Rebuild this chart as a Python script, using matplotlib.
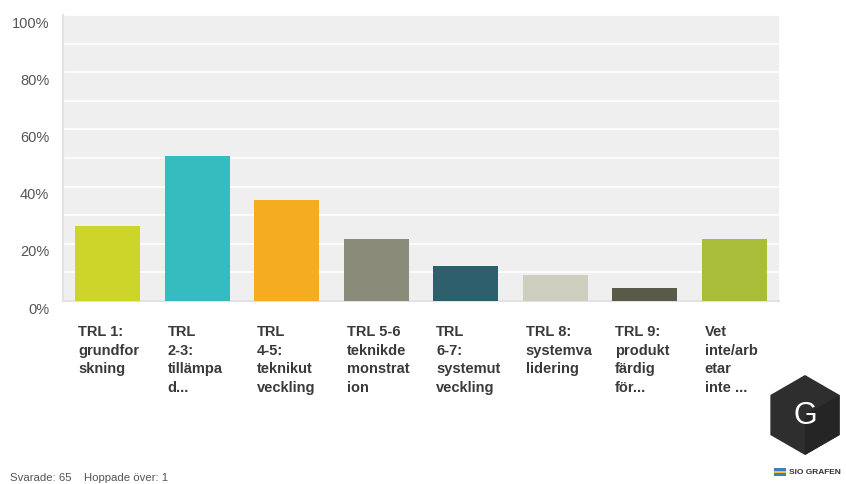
import matplotlib.pyplot as plt
import matplotlib.transforms as mtransforms
import numpy as np
from matplotlib.patches import RegularPolygon, Rectangle, Polygon
from matplotlib.ticker import FuncFormatter

# andel svarande per TRL-nivå (%), 65 svarande
categories = [
    "TRL 1:\ngrundfor\nskning",
    "TRL\n2-3:\ntillämpa\nd...",
    "TRL\n4-5:\nteknikut\nveckling",
    "TRL 5-6\nteknikde\nmonstrat\nion",
    "TRL\n6-7:\nsystemut\nveckling",
    "TRL 8:\nsystemva\nlidering",
    "TRL 9:\nprodukt\nfärdig\nför...",
    "Vet\ninte/arb\netar\ninte ...",
]
percent = [26.15, 50.77, 35.38, 21.54, 12.31, 9.23, 4.62, 21.54]
colors = ["#cdd42a", "#34bcbf", "#f5ac21", "#8a8b78", "#2e5f6c",
          "#cfcebe", "#5a5a48", "#a9bd38"]
yticks = [0, 20, 40, 60, 80, 100]

plt.rcParams["font.family"] = ["Liberation Sans", "DejaVu Sans"]

fig = plt.figure(figsize=(8.46, 4.85), dpi=100)
ax = fig.add_axes([0.0745, 0.3773, 0.8463, 0.5897])
ax.set_facecolor("#efefef")

x = range(len(percent))
ax.bar(x, percent, width=0.73, color=colors, zorder=3)

ax.set_xlim(-0.5, len(percent) - 0.5)
ax.set_ylim(0, 100)
ax.set_yticks(yticks)
ax.set_yticks(range(10, 100, 20), minor=True)
ax.yaxis.set_major_formatter(FuncFormatter(lambda v, p: f"{v:.0f}%"))
ax.grid(axis="y", which="both", color="white", linewidth=1.2, zorder=1)
ax.tick_params(axis="y", which="both", length=0, labelsize=10.5,
               labelcolor="#555555", pad=10)
ax.set_xticks([])

# skjut y-etiketterna lite nedåt
offset = mtransforms.ScaledTranslation(0, -6 / 100, fig.dpi_scale_trans)
for lab in ax.get_yticklabels():
    lab.set_transform(lab.get_transform() + offset)

for side in ["top", "right"]:
    ax.spines[side].set_visible(False)
for side in ["left", "bottom"]:
    ax.spines[side].set_color("#e2e2e2")
    ax.spines[side].set_linewidth(1.5)

# kategorietiketter under staplarna, vänsterjusterade
for i, lab in enumerate(categories):
    ax.annotate(lab, xy=(i - 0.33, 0), xycoords="data",
                xytext=(0, -23), textcoords="offset pixels",
                ha="left", va="top", fontsize=10.5, fontweight="bold",
                color="#3a3a3a", linespacing=1.42)

fig.text(0.012, 0.005, "Svarade: 65    Hoppade över: 1", fontsize=8.2,
         color="#555555", ha="left", va="bottom")

# logotyp nere till höger (pixelkoordinater)
cx, cy, r = 805, 485 - 416, 40
pix = mtransforms.IdentityTransform()
fig.patches.append(RegularPolygon((cx, cy), numVertices=6, radius=r,
                                  facecolor="#2e2e2e", edgecolor="none",
                                  transform=pix))
ang = np.deg2rad([30, -30, -90])
shade = [(cx, cy)] + [(cx + r * np.cos(a), cy + r * np.sin(a)) for a in ang]
fig.patches.append(Polygon(shade, facecolor="#252525", edgecolor="none",
                           transform=pix))
fig.text(cx / 846, cy / 485, "G", fontsize=22, color="white",
         ha="center", va="center", fontweight="light")
fig.patches.append(Rectangle((774, 485 - 477), 12, 8,
                             facecolor="#3f7fc0", transform=pix))
fig.patches.append(Rectangle((774, 485 - 474), 12, 2,
                             facecolor="#f2c62a", transform=pix))
fig.text(789 / 846, 1 - 473 / 485, "SIO GRAFEN", fontsize=6.0,
         color="#333333", ha="left", va="center", fontweight="bold")

fig.savefig("out.png", dpi=100)
